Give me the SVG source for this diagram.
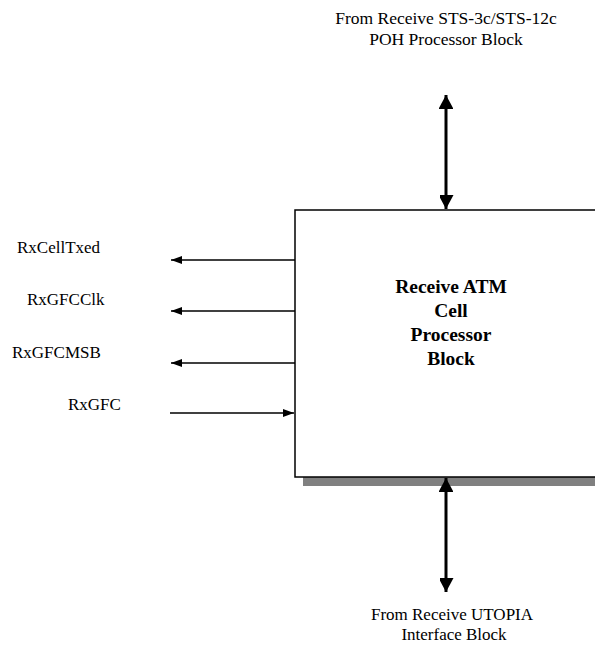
<svg xmlns="http://www.w3.org/2000/svg" width="595" height="645" viewBox="0 0 595 645">
<defs>
<style>
.lbl{font-family:"Liberation Serif","Times New Roman",serif;font-size:17.5px;fill:#000}
.sl{font-family:"Liberation Serif","Times New Roman",serif;font-size:17px;fill:#000}
.bold{font-family:"Liberation Serif","Times New Roman",serif;font-size:19.5px;font-weight:bold;fill:#000;text-anchor:middle}
.sig{stroke:#000;stroke-width:1.3;fill:none}
.bus{stroke:#000;stroke-width:3;fill:none}
</style>
<marker id="ah" viewBox="0 0 11 8" refX="11" refY="4" markerWidth="11" markerHeight="8" markerUnits="userSpaceOnUse" orient="auto">
<path d="M0,0 L11,4 L0,8 Z" fill="#000"/>
</marker>
<marker id="bh" viewBox="0 0 15 14" refX="14" refY="7.5" markerWidth="15" markerHeight="14" markerUnits="userSpaceOnUse" orient="auto-start-reverse">
<path d="M0,0 L14,7.5 L0,15 Z" fill="#000"/>
</marker>
</defs>
<rect width="595" height="645" fill="#fff"/>
<g id="block">
<rect x="303" y="219" width="312" height="267" fill="#808080"/>
<rect x="295" y="210" width="312" height="267" fill="#fff" stroke="#000" stroke-width="1.5"/>
<text class="bold" x="451" y="293">Receive ATM</text>
<text class="bold" x="451" y="317">Cell</text>
<text class="bold" x="451" y="341">Processor</text>
<text class="bold" x="451" y="365">Block</text>
</g>
<g id="top-label">
<text class="lbl" x="446" y="24" text-anchor="middle">From Receive STS-3c/STS-12c</text>
<text class="lbl" x="446" y="45" text-anchor="middle">POH Processor Block</text>
</g>
<g id="bottom-label">
<text class="sl" x="452" y="620" text-anchor="middle">From Receive UTOPIA</text>
<text class="sl" x="454" y="640" text-anchor="middle">Interface Block</text>
</g>
<g id="signal-labels">
<text class="sl" x="17" y="253">RxCellTxed</text>
<text class="sl" x="27" y="305">RxGFCClk</text>
<text class="sl" x="12" y="358">RxGFCMSB</text>
<text class="sl" x="68" y="410">RxGFC</text>
</g>
<g id="connectors">
<line class="bus" x1="446" y1="209" x2="446" y2="95" marker-start="url(#bh)" marker-end="url(#bh)"/>
<line class="bus" x1="446" y1="478" x2="446" y2="592" marker-start="url(#bh)" marker-end="url(#bh)"/>
<line class="sig" x1="295" y1="260" x2="171" y2="260" marker-end="url(#ah)"/>
<line class="sig" x1="295" y1="311" x2="171" y2="311" marker-end="url(#ah)"/>
<line class="sig" x1="295" y1="363" x2="171" y2="363" marker-end="url(#ah)"/>
<line class="sig" x1="170" y1="413" x2="294" y2="413" marker-end="url(#ah)"/>
</g>
</svg>
